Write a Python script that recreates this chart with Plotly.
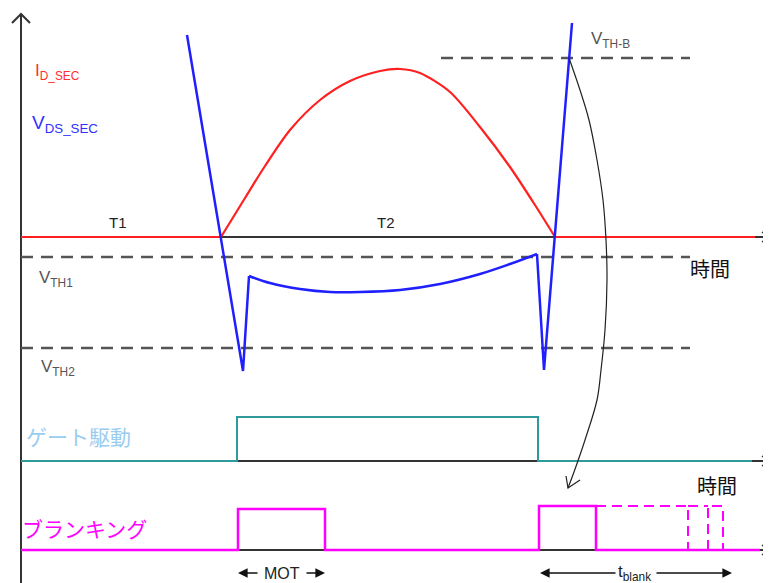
import plotly.graph_objects as go

# ---- schematic waveform data (x: time position, y: level, drawing units) ----
id_x = [21, 221, 245, 265, 290, 320, 350, 380, 400, 420, 450, 480, 510, 535, 555, 755]
id_y = [237, 237, 198, 166, 130, 100, 81, 71, 69, 73, 92, 127, 167, 205, 237, 237]

vds_x = [187, 243, 249, 270, 300, 330, 360, 400, 440, 480, 510, 537, 544, 572]
vds_y = [35, 371, 276, 283, 289, 292, 292, 290, 284, 274, 264, 254, 370, 23]

gate_x = [21, 237, 237, 538, 538, 752]
gate_y = [461, 461, 417, 417, 461, 461]

blank_x = [21, 238, 238, 325, 325, 539, 539, 596, 596, 760]
blank_y = [550, 550, 509, 509, 550, 550, 506, 506, 550, 550]

blank_dash_x = [596, 688, 688, None, 688, 708, None, 708, 708, 723, 723]
blank_dash_y = [506, 506, 550, None, 506, 506, None, 550, 506, 506, 550]

arc_x = [569, 580, 589, 597, 603, 606, 607, 605, 601, 597, 585, 574, 568]
arc_y = [58, 90, 120, 160, 200, 240, 280, 330, 370, 400, 440, 472, 488]

vth_levels = {"VTH1": 257, "VTH2": 348, "VTHB": 58}

fig = go.Figure()

GRAY = "#555555"
DARK = "#333333"

def line(xs, ys, color, width, dash=None, shape="linear", smoothing=1.0):
    fig.add_trace(go.Scatter(x=xs, y=ys, mode="lines", hoverinfo="skip",
                             line=dict(color=color, width=width, dash=dash, shape=shape,
                                       smoothing=smoothing if shape == "spline" else None)))

# axes lines
line([21, 21], [583, 14], DARK, 2)
line([12, 21, 30], [23, 14, 23], DARK, 2)
for yb in [237, 461, 550]:
    line([21, 768], [yb, yb], DARK, 2)
    line([762, 769, 762], [yb - 5, yb, yb + 5], DARK, 1.5)

# threshold dashed lines
line([21, 690], [vth_levels["VTH1"]] * 2, GRAY, 2.5, dash="12px,8px")
line([21, 690], [vth_levels["VTH2"]] * 2, GRAY, 2.5, dash="12px,8px")
line([441, 690], [vth_levels["VTHB"]] * 2, GRAY, 2.5, dash="12px,8px")

# waveforms
RED = "#ff2020"
line(id_x[1:15], id_y[1:15], RED, 2.2, shape="spline", smoothing=0.8)
line(id_x[:2], id_y[:2], RED, 2.2)
line(id_x[-2:], id_y[-2:], RED, 2.2)

BLUE = "#2020ff"
line(vds_x[:3], vds_y[:3], BLUE, 2.5)
line(vds_x[2:12], vds_y[2:12], BLUE, 2.5, shape="spline")
line(vds_x[11:], vds_y[11:], BLUE, 2.5)

line(gate_x, gate_y, "#2e9a9a", 2)
line(blank_x, blank_y, "#ff00ff", 2.5)
fig.add_trace(go.Scatter(x=blank_dash_x, y=blank_dash_y, mode="lines", hoverinfo="skip",
                         line=dict(color="#ff00ff", width=2, dash="10px,6px"), connectgaps=False))

# curved arrow
line(arc_x, arc_y, "#222222", 1.2, shape="spline")
line([566, 568, 580], [476, 488, 480], "#222222", 1.2)

ann = []
def txt(x, y, t, color, size, family="Liberation Sans, Arial", xanchor="left"):
    ann.append(dict(x=x, y=y, text=t, showarrow=False, xanchor=xanchor, yanchor="middle",
                    font=dict(color=color, size=size, family=family)))

txt(33, 72, "I<sub>D_SEC</sub>", "#ff3030", 17)
txt(30, 124, "V<sub>DS_SEC</sub>", "#3030ff", 19)
txt(107, 222, "T1", "#222222", 15)
txt(375, 222, "T2", "#222222", 15)
txt(37, 279, "V<sub>TH1</sub>", GRAY, 17)
txt(39, 368, "V<sub>TH2</sub>", GRAY, 17)
txt(589, 40, "V<sub>TH-B</sub>", GRAY, 17)
txt(688, 268, "時間", "#111111", 20, family="Noto Sans CJK JP")
txt(695, 485, "時間", "#111111", 20, family="Noto Sans CJK JP")
txt(24, 436, "ゲート駆動", "#99ccf0", 21, family="Noto Sans CJK JP")
txt(20, 528, "ブランキング", "#ff00ff", 21, family="Noto Sans CJK JP")
txt(282, 573, "MOT", "#222222", 16, xanchor="center")
txt(634, 573, "t<sub>blank</sub>", "#222222", 17, xanchor="center")

# dimension arrows
for (x0, x1) in [(259, 238), (305, 325), (617, 540), (655, 732)]:
    ann.append(dict(x=x1, y=573, ax=x0, ay=573, axref="x", ayref="y", xref="x", yref="y",
                    showarrow=True, arrowhead=2, arrowsize=1.2, arrowwidth=1.6, arrowcolor="#111111", text=""))

# page body has an 8px margin: map drawing units so they land on the same page pixels
fig.update_layout(
    width=763, height=575,
    margin=dict(l=0, r=0, t=0, b=0),
    paper_bgcolor="white", plot_bgcolor="white",
    showlegend=False,
    xaxis=dict(range=[8, 771], visible=False, fixedrange=True),
    yaxis=dict(range=[583, 8], visible=False, fixedrange=True),
    annotations=ann,
)

fig.write_html("out.html")
